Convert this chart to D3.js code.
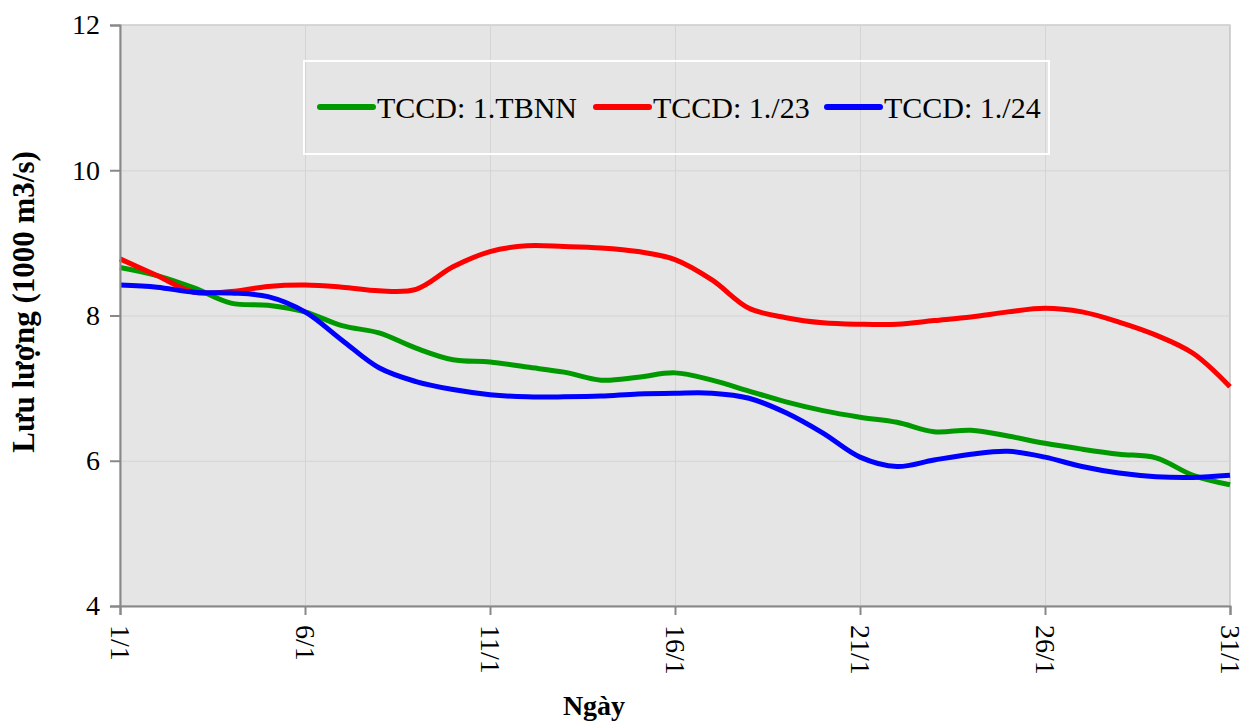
<!DOCTYPE html>
<html>
<head>
<meta charset="utf-8">
<script src="https://cdn.jsdelivr.net/npm/d3@7/dist/d3.min.js"></script>
<style>
  html, body { margin: 0; padding: 0; background: #fff; }
  svg text { font-family: "Liberation Serif", "DejaVu Serif", serif; }
</style>
</head>
<body>
<svg id="chart"></svg>
<script>
/* Data */
const days = d3.range(1, 32);
const tbnn = [8.66, 8.55, 8.38, 8.17, 8.14, 8.05, 7.86, 7.76, 7.55, 7.39, 7.36, 7.29, 7.22, 7.11, 7.15, 7.21,
              7.11, 6.96, 6.81, 6.69, 6.60, 6.53, 6.40, 6.42, 6.34, 6.24, 6.16, 6.09, 6.04, 5.80, 5.67];
const y23 = [8.78, 8.55, 8.32, 8.33, 8.40, 8.42, 8.39, 8.34, 8.36, 8.67, 8.88, 8.96, 8.95, 8.93, 8.88, 8.77,
             8.49, 8.10, 7.97, 7.90, 7.88, 7.88, 7.93, 7.98, 8.05, 8.10, 8.05, 7.91, 7.73, 7.48, 7.02];
const y24 = [8.42, 8.39, 8.32, 8.31, 8.26, 8.05, 7.66, 7.28, 7.09, 6.98, 6.91, 6.88, 6.88, 6.89, 6.92, 6.93,
             6.93, 6.86, 6.66, 6.38, 6.05, 5.92, 6.01, 6.09, 6.13, 6.05, 5.92, 5.83, 5.78, 5.77, 5.80];
const seriesNames = ["TCCD: 1.TBNN", "TCCD: 1./23", "TCCD: 1./24"];
const seriesColors = ["#009900", "#ff0000", "#0000ff"];
const xTicks = [1, 6, 11, 16, 21, 26, 31];
const xTickLabels = ["1/1", "6/1", "11/1", "16/1", "21/1", "26/1", "31/1"];
const yTicks = [4, 6, 8, 10, 12];

const series = [tbnn, y23, y24].map((vals, i) => ({
    name: seriesNames[i],
    color: seriesColors[i],
    values: vals.map((v, j) => ({ day: days[j], v: v }))
}));

/* Dimensions */
const W = 1254, H = 724;
const margin = { top: 25, right: 24, bottom: 118, left: 120 };
const width = W - margin.left - margin.right;
const height = H - margin.top - margin.bottom;
const serif = '"Liberation Serif", "DejaVu Serif", serif';

const svg = d3.select("#chart").attr("width", W).attr("height", H);
const g = svg.append("g").attr("transform", `translate(${margin.left},${margin.top})`);

/* Scales */
const x = d3.scaleLinear().domain([1, 31]).range([0, width]);
const y = d3.scaleLinear().domain([4, 12]).range([height, 0]);

/* Plot background */
g.append("rect")
    .attr("width", width).attr("height", height)
    .attr("fill", "#e5e5e5")
    .attr("stroke", "#b0b0b0").attr("stroke-width", 1);

/* Grid lines */
g.append("g")
    .call(d3.axisLeft(y).tickValues(yTicks).tickSize(-width).tickFormat(""))
    .call(s => s.select(".domain").remove())
    .selectAll("line").attr("stroke", "#d4d4d4").attr("stroke-width", 1);
g.append("g")
    .attr("transform", `translate(0,${height})`)
    .call(d3.axisBottom(x).tickValues(xTicks).tickSize(-height).tickFormat(""))
    .call(s => s.select(".domain").remove())
    .selectAll("line").attr("stroke", "#d4d4d4").attr("stroke-width", 1);

/* Legend box */
const legend = g.append("g").attr("transform", `translate(${304 - margin.left},${61 - margin.top})`);
legend.append("rect")
    .attr("width", 745).attr("height", 93)
    .attr("fill", "none").attr("stroke", "#ffffff").attr("stroke-width", 2);
const legendX = [16, 292, 523];
series.forEach((s, i) => {
    const item = legend.append("g").attr("transform", `translate(${legendX[i]},46)`);
    item.append("line")
        .attr("x1", 0).attr("x2", 53)
        .attr("stroke", s.color).attr("stroke-width", 6).attr("stroke-linecap", "round");
    item.append("text")
        .attr("x", 57).attr("dy", "0.35em")
        .style("font-family", serif)
        .style("font-size", "30px")
        .text(s.name);
});

/* Lines */
const line = d3.line()
    .x(d => x(d.day))
    .y(d => y(d.v))
    .curve(d3.curveCatmullRom.alpha(0.5));

g.selectAll(".series")
    .data(series)
    .join("path")
      .attr("class", "series")
      .attr("fill", "none")
      .attr("stroke", d => d.color)
      .attr("stroke-width", 5)
      .attr("stroke-linejoin", "round")
      .attr("d", d => line(d.values));

/* Axes */
const axisColor = "#888888";
const yAxis = g.append("g")
    .call(d3.axisLeft(y).tickValues(yTicks).tickSize(10).tickPadding(10).tickFormat(d3.format("d")));
yAxis.select(".domain").attr("stroke", axisColor).attr("stroke-width", 2);
yAxis.selectAll("line").attr("stroke", axisColor).attr("stroke-width", 2);
yAxis.selectAll("text")
    .style("font-size", "28px").style("font-family", serif).attr("fill", "#000");

const xAxis = g.append("g")
    .attr("transform", `translate(0,${height})`)
    .call(d3.axisBottom(x).tickValues(xTicks).tickSize(9).tickFormat((d, i) => xTickLabels[i]));
xAxis.select(".domain").attr("stroke", axisColor).attr("stroke-width", 2);
xAxis.selectAll("line").attr("stroke", axisColor).attr("stroke-width", 2);
xAxis.selectAll("text")
    .attr("transform", "rotate(90)")
    .attr("x", 19).attr("y", 0).attr("dy", "0.35em")
    .attr("text-anchor", "start")
    .style("font-size", "28px").style("font-family", serif).attr("fill", "#000");

/* Axis titles */
svg.append("text")
    .attr("x", 594).attr("y", 715)
    .attr("text-anchor", "middle")
    .style("font-family", serif)
    .style("font-size", "28px").style("font-weight", "bold")
    .text("Ngày");

svg.append("text")
    .attr("transform", "translate(34,302) rotate(-90)")
    .attr("text-anchor", "middle")
    .style("font-family", serif)
    .style("font-size", "31px").style("font-weight", "bold")
    .text("Lưu lượng (1000 m3/s)");
</script>
</body>
</html>
